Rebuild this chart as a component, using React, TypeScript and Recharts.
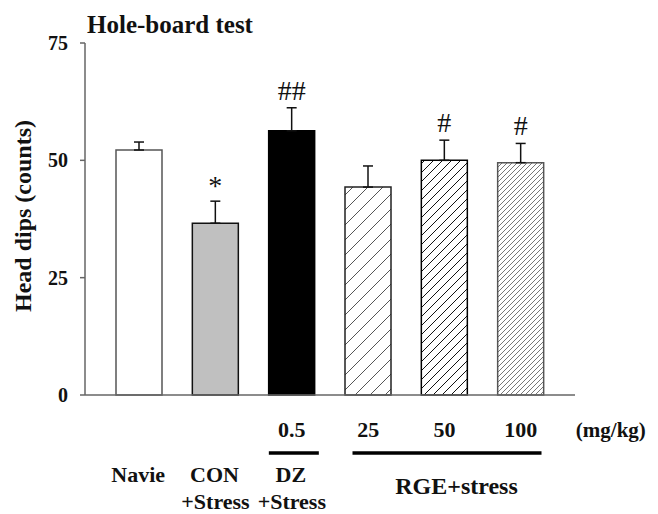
import React from 'react';
import { BarChart, Bar, XAxis, YAxis, ErrorBar, Cell, LabelList } from 'recharts';

const groups = ['Navie', 'CON', 'DZ', 'RGE25', 'RGE50', 'RGE100'];
const means = [52.2, 36.6, 56.3, 44.3, 50.0, 49.5];
const sems = [1.7, 4.7, 4.9, 4.5, 4.3, 4.1];
const marks = ['', '*', '##', '', '#', '#'];
const doses = ['', '', '0.5', '25', '50', '100'];
const nameLine1 = ['Navie', 'CON', 'DZ', '', '', ''];
const nameLine2 = ['', '+Stress', '+Stress', '', '', ''];
const yTicks = [0, 25, 50, 75];

const fills = ['#ffffff', '#c0c0c0', '#000000', 'url(#hatch25)', 'url(#hatch50)', 'url(#hatch100)'];
const strokes = ['#555', '#111', '#000', '#222', '#000', '#555'];

const SERIF = "'Liberation Serif', 'Times New Roman', Times, serif";

const data = groups.map((g, i) => ({
  group: g,
  mean: means[i],
  err: [0, sems[i]],
  mark: marks[i],
}));

function Hatch({ id, size, color }: { id: string; size: number; color: string }) {
  const s = size;
  return (
    <pattern id={id} patternUnits="userSpaceOnUse" width={s} height={s}>
      <rect width={s} height={s} fill="#fff" />
      <path
        d={`M0,${s} L${s},0 M${-s / 4},${s / 4} L${s / 4},${-s / 4} M${s - s / 4},${s + s / 4} L${s + s / 4},${s - s / 4}`}
        stroke={color}
        strokeWidth={1}
      />
    </pattern>
  );
}

function XTick(props: any) {
  const { x, index } = props;
  const i = index ?? props.payload?.index ?? 0;
  const common = { fontFamily: SERIF, fontWeight: 'bold' as const, fill: '#111' };
  return (
    <g>
      {doses[i] && (
        <text x={x} y={437} textAnchor="middle" fontSize={22} {...common}>
          {doses[i]}
        </text>
      )}
      {nameLine1[i] && (
        <text x={x - 1} y={482} textAnchor="middle" fontSize={22} {...common}>
          {nameLine1[i]}
        </text>
      )}
      {nameLine2[i] && (
        <text x={x} y={509} textAnchor="middle" fontSize={22} {...common}>
          {nameLine2[i]}
        </text>
      )}
      {i === 2 && <line x1={x - 23} x2={x + 27} y1={453} y2={453} stroke="#000" strokeWidth={3.5} />}
      {i === 4 && (
        <>
          <line x1={x - 92} x2={x + 97} y1={453} y2={453} stroke="#000" strokeWidth={3.5} />
          <text x={x + 12} y={494} textAnchor="middle" fontSize={24} {...common}>
            RGE+stress
          </text>
        </>
      )}
      {i === 5 && (
        <text x={x + 55} y={437} textAnchor="start" fontSize={21} {...common}>
          (mg/kg)
        </text>
      )}
    </g>
  );
}

function MarkLabel(props: any) {
  const { x, y, width, height, index, value } = props;
  if (!value) return null;
  const errTop = y - (sems[index] * height) / means[index];
  const baseY = value === '*' ? errTop - 6 : errTop - 8;
  return (
    <text x={x + width / 2} y={baseY} textAnchor="middle" fontSize={28} fontFamily={SERIF} fill="#111">
      {value}
    </text>
  );
}

function YLabel() {
  return (
    <text
      x={31}
      y={216}
      transform="rotate(-90, 31, 216)"
      textAnchor="middle"
      fontSize={24}
      fontWeight="bold"
      fontFamily={SERIF}
      fill="#111"
    >
      Head dips (counts)
    </text>
  );
}

export default function App() {
  return (
    <div style={{ position: 'absolute', left: 0, top: 0, width: 658, height: 514, background: '#fff' }}>
      <BarChart width={658} height={514} data={data} margin={{ top: 43, right: 83, bottom: 0, left: 0 }}>
        <defs>
          <Hatch id="hatch25" size={15} color="#555" />
          <Hatch id="hatch50" size={9} color="#111" />
          <Hatch id="hatch100" size={5} color="#777" />
        </defs>
        <XAxis
          dataKey="group"
          height={119}
          padding={{ left: 16, right: 16 }}
          axisLine={{ stroke: '#666', strokeWidth: 1.5 }}
          tickLine={false}
          tick={<XTick />}
          interval={0}
        />
        <YAxis
          width={85}
          domain={[0, 75]}
          ticks={yTicks}
          tickSize={5}
          tickMargin={12}
          axisLine={{ stroke: '#666', strokeWidth: 1.5 }}
          tickLine={{ stroke: '#666', strokeWidth: 1.5 }}
          tick={{ fontFamily: SERIF, fontWeight: 'bold', fontSize: 20, fill: '#111' }}
          label={<YLabel />}
        />
        <Bar dataKey="mean" barSize={46} isAnimationActive={false}>
          {data.map((d, i) => (
            <Cell key={d.group} fill={fills[i]} stroke={strokes[i]} strokeWidth={1.5} />
          ))}
          <ErrorBar dataKey="err" width={5} stroke="#111" strokeWidth={1.5} direction="y" />
          <LabelList dataKey="mark" content={<MarkLabel />} />
        </Bar>
      </BarChart>
      <svg width={658} height={60} style={{ position: 'absolute', left: 0, top: 0, pointerEvents: 'none' }}>
        <text x={87} y={33} fontSize={25} fontWeight="bold" fontFamily={SERIF} fill="#111">
          Hole-board test
        </text>
      </svg>
    </div>
  );
}
